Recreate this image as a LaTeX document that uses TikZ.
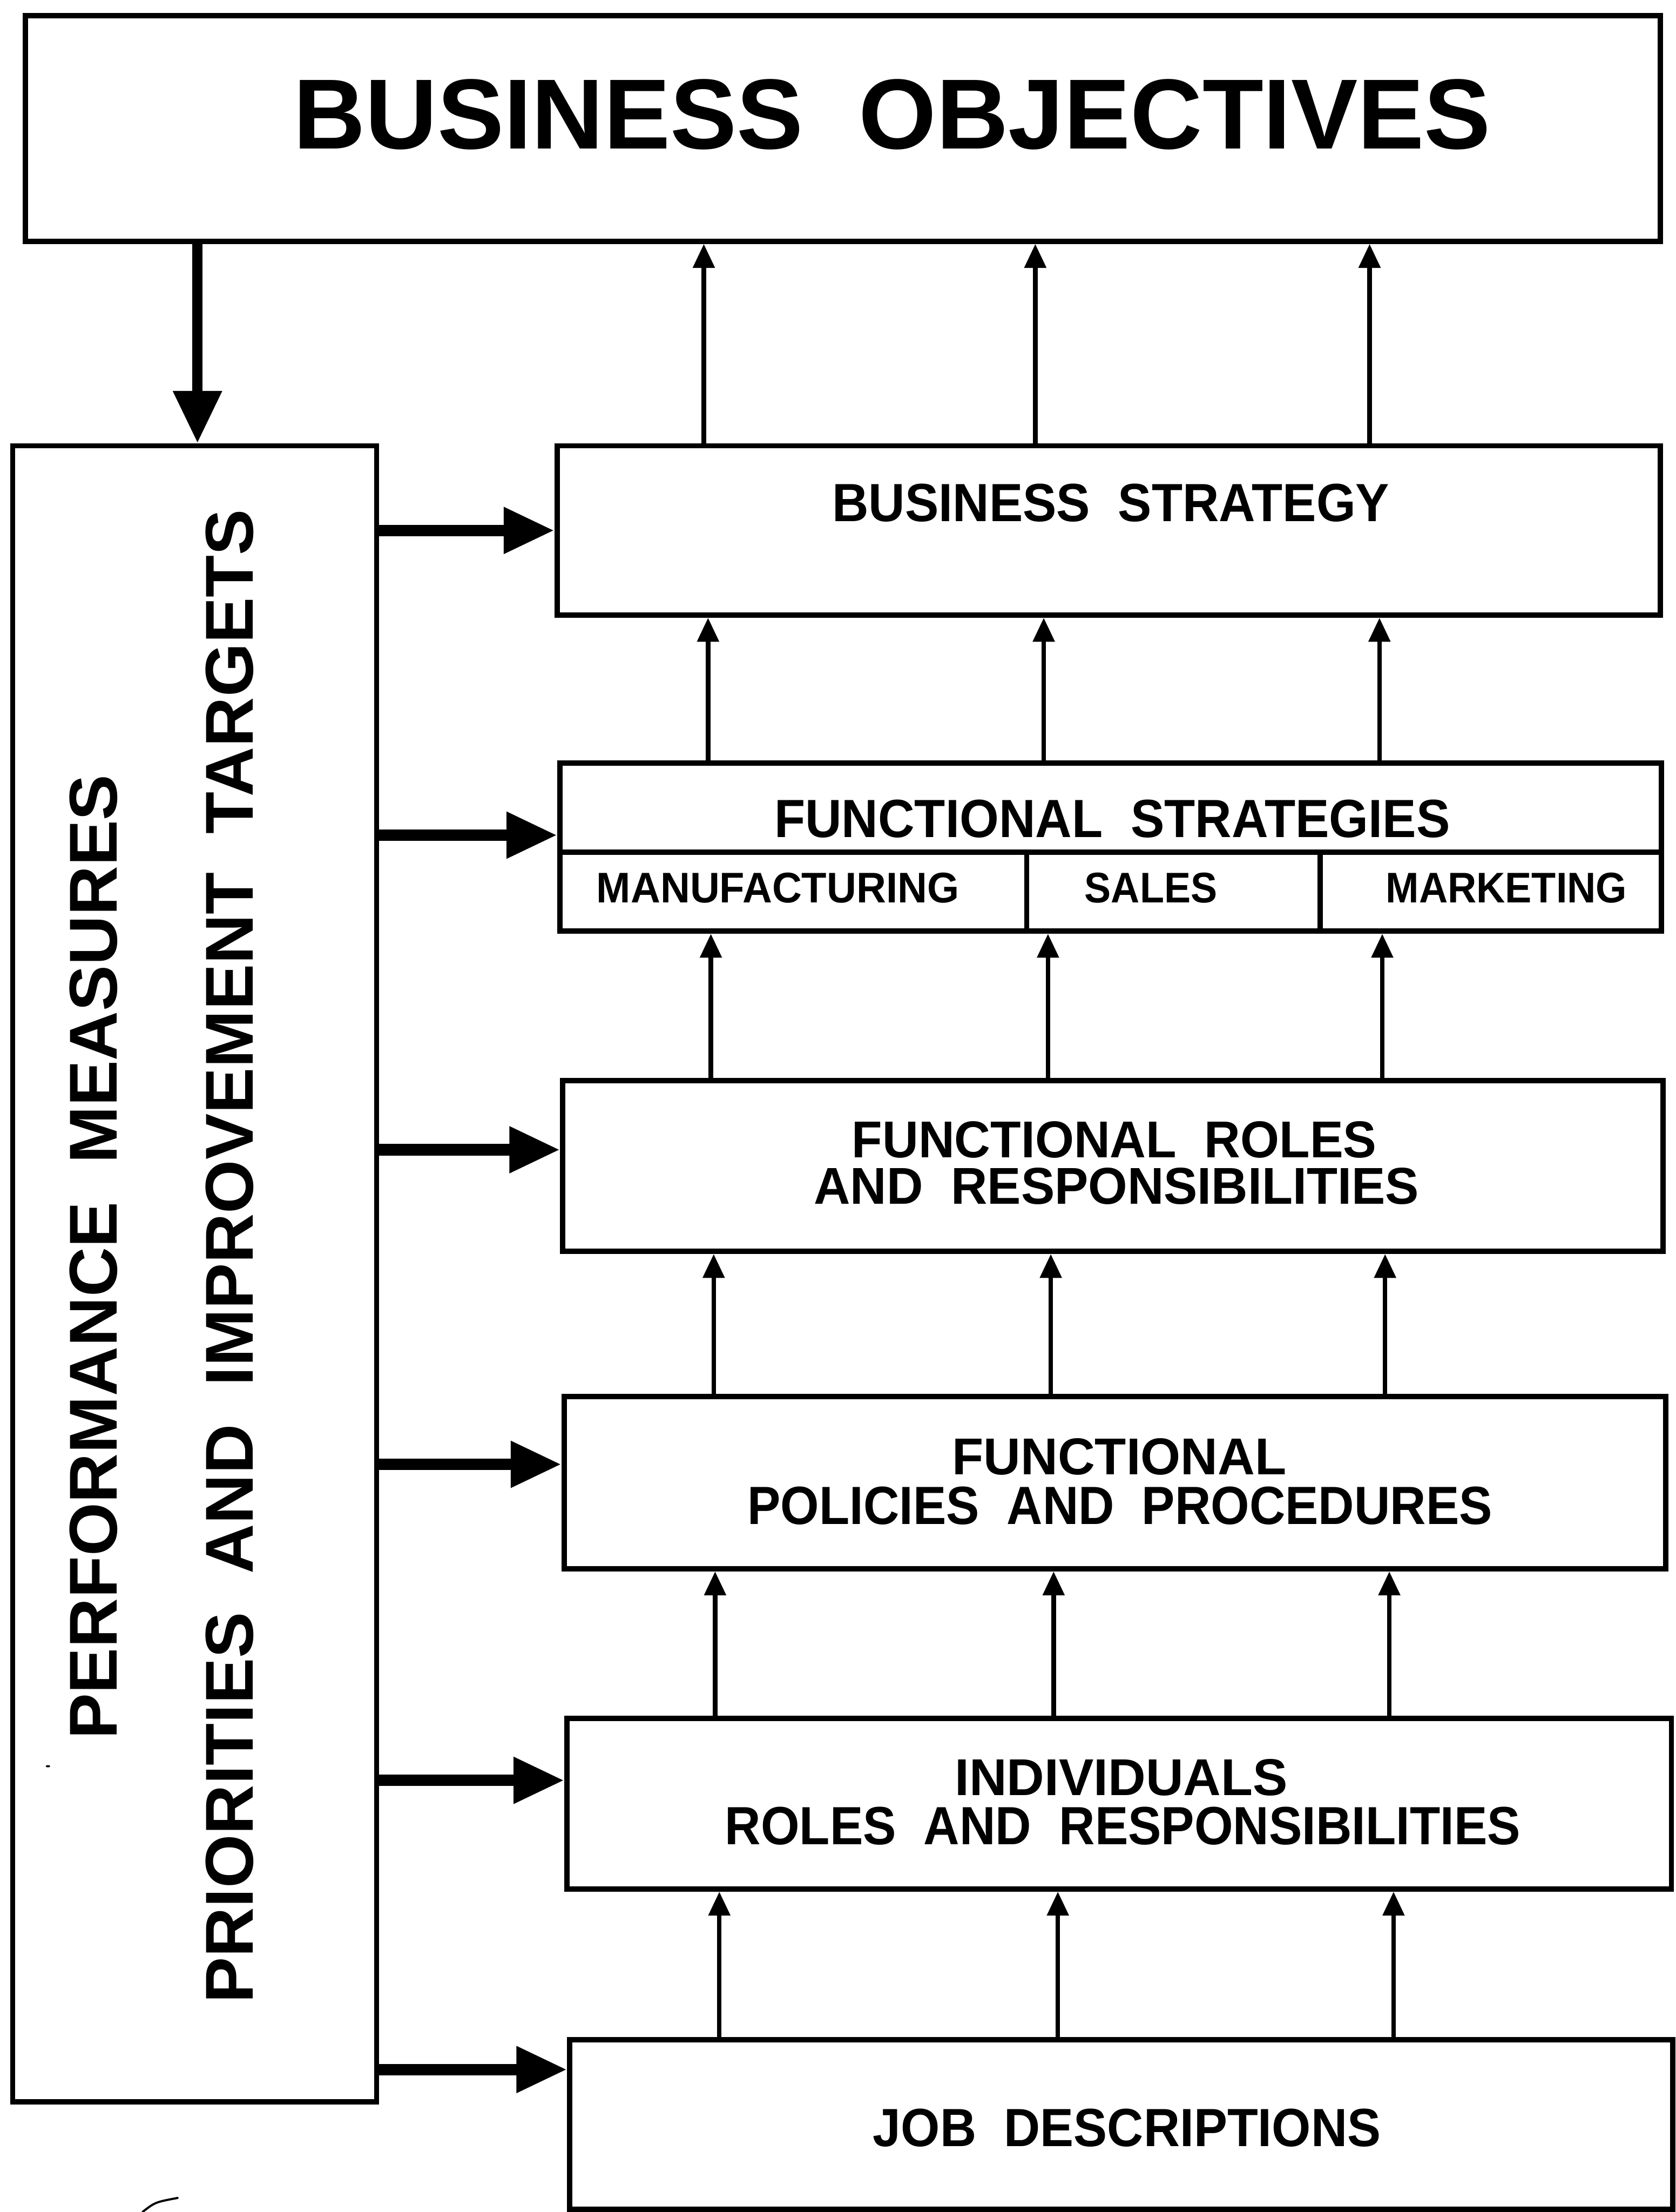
\documentclass[tikz,border=0pt]{standalone}
\usepackage{graphicx}
\usepackage{fontspec}
\setmainfont{Liberation Sans}
\usetikzlibrary{arrows.meta}
% label scaled to a given width and total height (both in mm)
\newcommand\fitlabel[3]{\resizebox*{#1mm}{#2mm}{\bfseries #3}}
\begin{document}
\begin{tikzpicture}[x=0.1mm, y=-0.1mm,
  box/.style={draw, line width=0.38mm, inner sep=0pt, fill=white},
  lbl/.style={inner sep=0pt, outer sep=0pt},
  divline/.style={line width=0.36mm},
  uparrow/.style={line width=0.32mm, -{Triangle[length=1.7mm, width=1.5mm]}},
  feedarrow/.style={line width=0.82mm, -{Triangle[length=3.6mm, width=3.1mm]}},
  downarrow/.style={line width=0.73mm, -{Triangle[length=3.7mm, width=3.3mm]}}]
\useasboundingbox (0,0) rectangle (1188,1568);

% boxes
\node[box, minimum width=115.9mm, minimum height=16mm]   (bo)  at (597.5,91)   {};
\node[box, minimum width=25.8mm,  minimum height=117.4mm] (pm)  at (138,903)    {};
\node[box, minimum width=78.2mm,  minimum height=12mm]   (bs)  at (786,376)    {};
\node[box, minimum width=78.1mm,  minimum height=11.9mm] (fs)  at (787.5,600.5) {};
\node[box, minimum width=78mm,    minimum height=12.1mm] (frr) at (789,826.5)  {};
\node[box, minimum width=78.1mm,  minimum height=12.2mm] (fpp) at (790.5,1051) {};
\node[box, minimum width=78.3mm,  minimum height=12.1mm] (irr) at (793.5,1278.5) {};
\node[box, minimum width=78.2mm,  minimum height=12mm]   (jd)  at (795,1506)   {};

% sub-divisions of the functional strategies box
\coordinate (fsdiv) at (0,604);
\coordinate (fsv1) at (728,604);
\coordinate (fsv2) at (936,604);
\draw[divline] (fsdiv -| fs.west) -- (fsdiv -| fs.east);
\draw[divline] (fsv1) -- (fsv1 |- fs.south);
\draw[divline] (fsv2) -- (fsv2 |- fs.south);

% labels
\node[lbl] (tbo)   at (632.5,81)   {\fitlabel{84.9}{5.0}{BUSINESS\ \ OBJECTIVES}};
\node[lbl] (tbs)   at (787.5,356.5) {\fitlabel{39.5}{2.7}{BUSINESS\ \ STRATEGY}};
\node[lbl] (tfs)   at (788.5,580.5) {\fitlabel{47.9}{2.7}{FUNCTIONAL\ \ STRATEGIES}};
\node[lbl] (tman)  at (551.5,629.5) {\fitlabel{25.7}{2.15}{MANUFACTURING}};
\node[lbl] (tsal)  at (816,629.5)   {\fitlabel{9.4}{2.15}{SALES}};
\node[lbl] (tmar)  at (1068,629.5)  {\fitlabel{17.1}{2.15}{MARKETING}};
\node[lbl] (tfr1)  at (790,808)     {\fitlabel{37.2}{2.6}{FUNCTIONAL\ \ ROLES}};
\node[lbl] (tfr2)  at (791.5,841)   {\fitlabel{42.9}{2.6}{AND\ \ RESPONSIBILITIES}};
\node[lbl] (tfp1)  at (793.5,1032.5) {\fitlabel{23.7}{2.6}{FUNCTIONAL}};
\node[lbl] (tfp2)  at (794,1067.5)  {\fitlabel{52.8}{2.7}{POLICIES\ \ AND\ \ PROCEDURES}};
\node[lbl] (tir1)  at (795,1260)    {\fitlabel{23.6}{2.6}{INDIVIDUALS}};
\node[lbl] (tir2)  at (796,1294.5)  {\fitlabel{56.4}{2.7}{ROLES\ \ AND\ \ RESPONSIBILITIES}};
\node[lbl] (tjd)   at (799,1508.5)  {\fitlabel{36.0}{2.7}{JOB\ \ DESCRIPTIONS}};
\node[lbl, rotate=90] (tpm1) at (66.5,891)  {\fitlabel{68.4}{3.4}{PERFORMANCE\ \ MEASURES}};
\node[lbl, rotate=90] (tpm2) at (163,890.5) {\fitlabel{105.9}{3.4}{PRIORITIES\ \ AND\ \ IMPROVEMENT\ \ TARGETS}};

% objectives feed the measures column
\coordinate (dcol) at (140,0);
\draw[downarrow] (dcol |- bo.south) -- (dcol |- pm.north);

% upward contributions between levels
\foreach \s/\t/\a/\b/\c in {bs/bo/499/734/971, fs/bs/502/740/978, frr/fs/504/743/980,
                           fpp/frr/506/745/982, irr/fpp/507/747/985, jd/irr/510/750/988} {
  \foreach \x in {\a,\b,\c} {
    \coordinate (col) at (\x,0);
    \draw[uparrow] (col |- \s.north) -- (col |- \t.south);
  }
}

% measures and targets applied to every level
\foreach \t/\y in {bs/376, fs/592, frr/815, fpp/1038, irr/1262, jd/1467} {
  \coordinate (row) at (0,\y);
  \draw[feedarrow] (row -| pm.east) -- (row -| \t.west);
}

% pen marks
\draw[line width=0.15mm, line cap=round] (101,1568) .. controls (110,1561) .. (126,1558);
\fill (34,1252) ellipse (1.6 and 0.8);
\end{tikzpicture}
\end{document}
